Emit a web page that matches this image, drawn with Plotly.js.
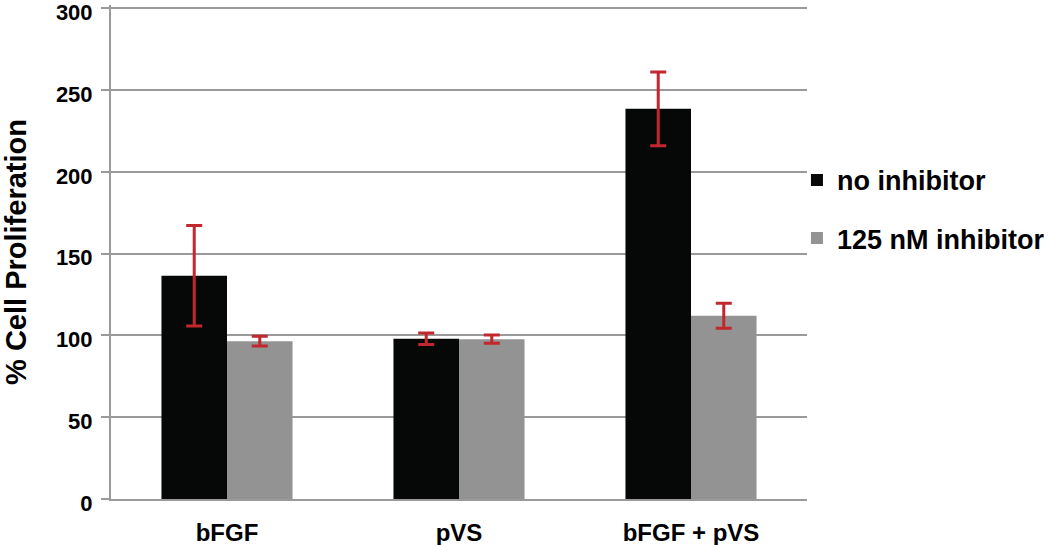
<!DOCTYPE html>
<html>
<head>
<meta charset="utf-8">
<script src="https://cdn.plot.ly/plotly-3.0.1.min.js"></script>
<style>html,body{margin:0;padding:0;background:#fff;}#chart{width:1050px;height:545px;}</style>
</head>
<body>
<div id="chart"></div>
<script>
const categories = ['bFGF', 'pVS', 'bFGF + pVS'];
const seriesNames = ['no inhibitor', '125 nM inhibitor'];
const noInhibitor = [136.5, 98, 238.5];
const noInhibitorErr = [30.7, 3.5, 22.5];
const inhibitor125 = [96.5, 97.7, 112];
const inhibitor125Err = [3, 2.5, 7.6];
const yTicks = [0, 50, 100, 150, 200, 250, 300];

const FONT = 'Arial, "Liberation Sans", sans-serif';
const errStyle = {type: 'data', visible: true, color: '#c1272d', thickness: 3, width: 8};

const traces = [
  {type: 'bar', name: seriesNames[0], x: categories, y: noInhibitor,
   error_y: Object.assign({array: noInhibitorErr}, errStyle),
   marker: {color: '#060808'}, legendgroup: 'a'},
  {type: 'bar', name: seriesNames[1], x: categories, y: inhibitor125,
   error_y: Object.assign({array: inhibitor125Err}, errStyle),
   marker: {color: '#939393'}, legendgroup: 'b'}
];

const layout = {
  width: 1050, height: 545,
  margin: {l: 111, r: 243, t: 5, b: 46, autoexpand: false},
  paper_bgcolor: '#fff', plot_bgcolor: '#fff',
  barmode: 'group', bargap: 0.435, bargroupgap: 0,
  font: {family: FONT, color: '#000'},
  showlegend: true,
  legend: {xref: 'container', yref: 'container', x: 0.759, xanchor: 'left', y: 0.714, yanchor: 'top',
           font: {family: FONT, size: 27, color: '#000', weight: 'bold'},
           traceorder: 'grouped', tracegroupgap: 20, itemwidth: 30,
           bgcolor: 'rgba(0,0,0,0)'},
  xaxis: {type: 'category', automargin: false, showgrid: false, showline: true, linecolor: '#9a9a9a', linewidth: 2,
          ticks: '', ticklabelstandoff: 11,
          tickfont: {family: FONT, size: 24, color: '#000', weight: 'bold'}},
  yaxis: {range: [0, 302], automargin: false, tickvals: yTicks, ticktext: yTicks.map(String),
          ticklabeloverflow: 'allow', ticklabelshift: 4,
          showgrid: true, gridcolor: '#9a9a9a', gridwidth: 2, zeroline: false,
          showline: true, linecolor: '#9a9a9a', linewidth: 2,
          ticks: 'outside', ticklen: 8, tickwidth: 2, tickcolor: '#9a9a9a',
          ticklabelstandoff: 4,
          tickfont: {family: FONT, size: 22, color: '#000', weight: 'bold'},
          title: {text: '% Cell Proliferation', standoff: 30,
                  font: {family: FONT, size: 29, color: '#000', weight: 'bold'}}}
};

Plotly.newPlot('chart', traces, layout, {displayModeBar: false, staticPlot: true});
</script>
</body>
</html>
